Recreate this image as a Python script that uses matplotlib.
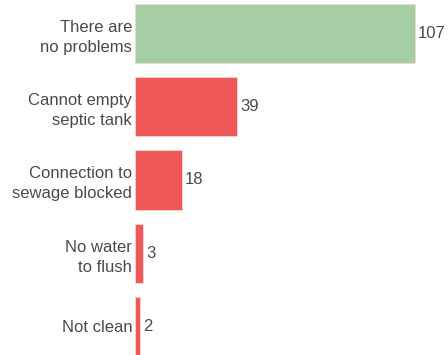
import matplotlib.pyplot as plt

categories = ["There are\nno problems", "Cannot empty\nseptic tank",
              "Connection to\nsewage blocked", "No water\nto flush", "Not clean"]
values = [107, 39, 18, 3, 2]
colors = ["#a5cea5", "#ef5858", "#ef5858", "#ef5858", "#ef5858"]

plt.rcParams['font.family'] = ['Liberation Sans', 'DejaVu Sans']

fig = plt.figure(figsize=(4.48, 3.55), dpi=100)
ax = fig.add_axes([135 / 448, 0, 313 / 448, 1])

pos = list(range(len(values)))
ax.barh(pos, values, height=0.81, color=colors, edgecolor="#f3d8cf", linewidth=0.6)

for p, v in zip(pos, values):
    ax.annotate(str(v), (v, p), xytext=(2.2, 0), textcoords="offset points",
                va="center", ha="left", fontsize=12, color="#4a4a4a")

ax.set_yticks(pos)
ax.set_yticklabels(categories, fontsize=12, color="#4a4a4a", linespacing=1.4)
ax.tick_params(axis="y", length=0, pad=2)
ax.set_xticks([])
ax.set_xlim(0, 119.6)
ax.set_ylim(4.39, -0.458)
for s in ax.spines.values():
    s.set_visible(False)

fig.savefig("out.png", dpi=100)
